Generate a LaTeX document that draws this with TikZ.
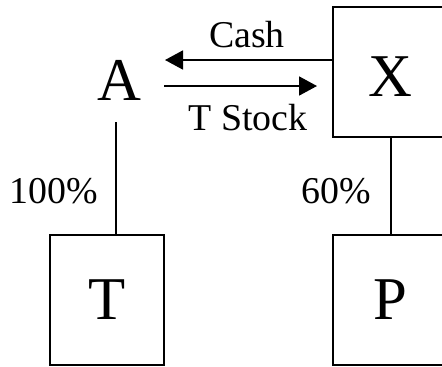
\documentclass[tikz,border=0pt]{standalone}
\usepackage{fontspec}
\setmainfont{Liberation Serif}
\usetikzlibrary{arrows.meta}
\begin{document}
\begin{tikzpicture}[x=1bp,y=-1bp,
  line width=1.8bp,
  big/.style={font=\fontsize{61}{61}\selectfont, inner sep=0pt},
  small/.style={font=\fontsize{38}{38}\selectfont, inner sep=0pt},
  entbox/.style={draw, big, minimum width=114bp, minimum height=130bp},
  flow/.style={-{Triangle[length=18bp,width=19bp]}}]
\useasboundingbox (0,0) rectangle (442,366);
\node[big, anchor=base] (A) at (119,100) {A};
\node[entbox, text height=48bp] (X) at (390,72) {X};
\node[entbox] (T) at (107,300) {T};
\node[entbox] (P) at (390,300) {P};
\coordinate (cashend) at (165,60);
\coordinate (stockstart) at (164,86);
\coordinate (stockend) at (317,86);
\coordinate (Adown) at (116,122);
\draw[flow] ([yshift=12bp]X.west) -- (cashend);
\draw[flow] (stockstart) -- (stockend);
\draw (Adown) -- (Adown |- T.north);
\draw ([xshift=1bp]X.south) -- ([xshift=1bp]P.north);
\node[small, anchor=base] (cash) at (247,47) {Cash};
\node[small, anchor=base] (stock) at (248,130) {T Stock};
\node[small, anchor=base] (p100) at (54,203) {100\%};
\node[small, anchor=base] (p60) at (336,203) {60\%};
\end{tikzpicture}
\end{document}
